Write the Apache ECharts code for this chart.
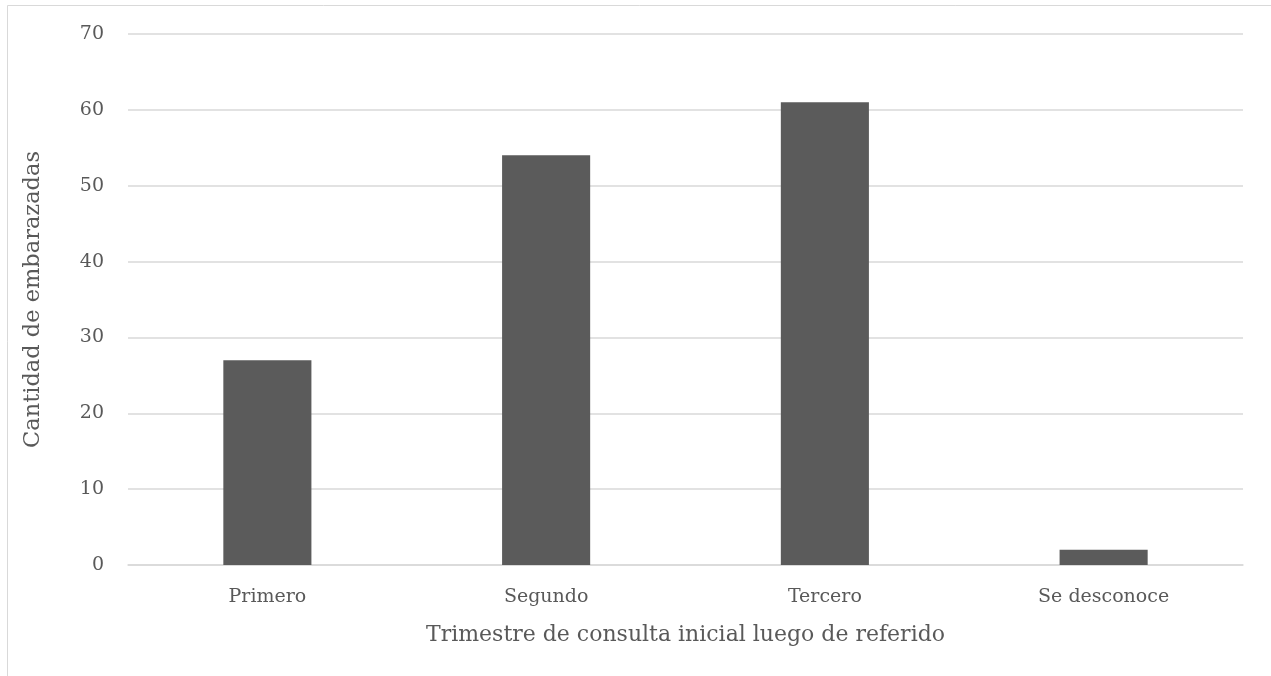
<!DOCTYPE html>
<html>
<head>
<meta charset="utf-8">
<script src="https://cdn.jsdelivr.net/npm/echarts@6/dist/echarts.min.js"></script>
<style>
  html, body { margin: 0; padding: 0; background: #fff; }
  #chart { width: 1271px; height: 676px; }
</style>
</head>
<body>
<div id="chart"></div>
<script>
// Trimestre de la primera consulta tras la referencia
const categories = ['Primero', 'Segundo', 'Tercero', 'Se desconoce'];
const counts = [27, 54, 61, 2];
const yTicks = { min: 0, max: 70, interval: 10 };

const FONT = '"DejaVu Serif", serif';
const TEXT = '#595959';

const chart = echarts.init(document.getElementById('chart'));
chart.setOption({
  animation: false,
  backgroundColor: '#ffffff',
  graphic: [{
    type: 'rect',
    shape: { x: 7.5, y: 5.5, width: 1300, height: 700 },
    style: { fill: 'none', stroke: '#d9d9d9', lineWidth: 1 },
    silent: true
  }],
  grid: { left: 128, right: 28, top: 34, bottom: 111 },
  xAxis: {
    type: 'category',
    data: categories,
    axisTick: { show: false },
    axisLine: { lineStyle: { color: '#d9d9d9', width: 1.5 } },
    axisLabel: { color: TEXT, fontFamily: FONT, fontSize: 19, margin: 23 },
    name: 'Trimestre de consulta inicial luego de referido',
    nameLocation: 'middle',
    nameGap: 59,
    nameTextStyle: { color: TEXT, fontFamily: FONT, fontSize: 22 }
  },
  yAxis: {
    type: 'value',
    min: yTicks.min,
    max: yTicks.max,
    interval: yTicks.interval,
    axisLine: { show: false },
    axisTick: { show: false },
    splitLine: { lineStyle: { color: '#d9d9d9', width: 1.5 } },
    axisLabel: { color: TEXT, fontFamily: FONT, fontSize: 19, margin: 24 },
    name: 'Cantidad de embarazadas',
    nameLocation: 'middle',
    nameGap: 83,
    nameRotate: 90,
    nameTextStyle: { color: TEXT, fontFamily: FONT, fontSize: 22.5 }
  },
  series: [{
    type: 'bar',
    data: counts,
    barWidth: '31.6%',
    itemStyle: { color: '#5b5b5b' }
  }]
});
</script>
</body>
</html>
